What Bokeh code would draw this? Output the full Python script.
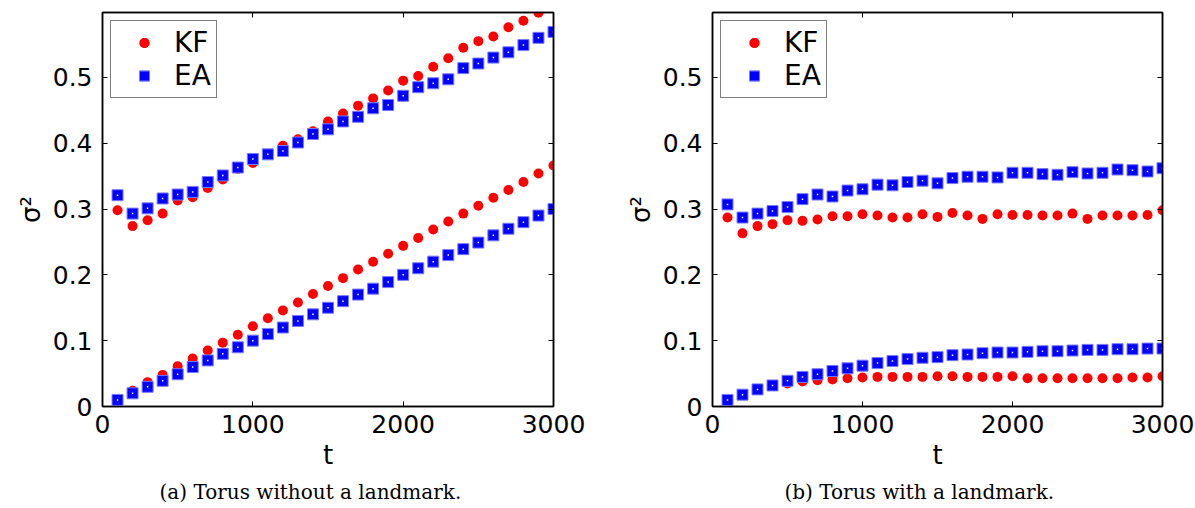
import math
from bokeh.plotting import figure
from bokeh.layouts import row
from bokeh.models import (LinearAxis, FixedTicker, Range1d, Legend, LegendItem, Title)
from bokeh.embed import file_html
from bokeh.resources import INLINE

nan = float("nan")

t = [100, 200, 300, 400, 500, 600, 700, 800, 900, 1000,
     1100, 1200, 1300, 1400, 1500, 1600, 1700, 1800, 1900, 2000,
     2100, 2200, 2300, 2400, 2500, 2600, 2700, 2800, 2900, 3000]

# (a) Torus without a landmark
kf_a_upper = [0.298, 0.274, 0.283, 0.293, 0.313, 0.318, 0.332, 0.345, 0.361, 0.370,
              0.383, 0.396, 0.406, 0.418, 0.433, 0.445, 0.457, 0.468, 0.480, 0.495,
              0.502, 0.516, 0.529, 0.545, 0.555, 0.562, 0.576, 0.586, 0.598, nan]
ea_a_upper = [0.321, 0.293, 0.301, 0.316, 0.322, 0.326, 0.341, 0.351, 0.363, 0.376,
              0.383, 0.388, 0.401, 0.414, 0.421, 0.433, 0.440, 0.453, 0.458, 0.472,
              0.485, 0.491, 0.497, 0.514, 0.521, 0.530, 0.538, 0.549, 0.560, 0.569]
kf_a_lower = [0.010, 0.024, 0.037, 0.048, 0.061, 0.073, 0.085, 0.097, 0.109, 0.122,
              0.134, 0.146, 0.158, 0.171, 0.183, 0.195, 0.208, 0.220, 0.232, 0.244,
              0.256, 0.269, 0.281, 0.293, 0.305, 0.317, 0.329, 0.341, 0.354, 0.366]
ea_a_lower = [0.010, 0.020, 0.030, 0.039, 0.049, 0.060, 0.070, 0.080, 0.090, 0.100,
              0.110, 0.120, 0.130, 0.140, 0.150, 0.160, 0.170, 0.179, 0.189, 0.200,
              0.210, 0.220, 0.230, 0.239, 0.249, 0.260, 0.270, 0.280, 0.290, 0.300]

# (b) Torus with a landmark
kf_b_upper = [0.287, 0.263, 0.274, 0.277, 0.283, 0.282, 0.284, 0.289, 0.289, 0.292,
              0.290, 0.287, 0.287, 0.292, 0.288, 0.294, 0.290, 0.285, 0.292, 0.291,
              0.291, 0.290, 0.290, 0.293, 0.285, 0.290, 0.290, 0.290, 0.291, 0.298]
ea_b_upper = [0.307, 0.287, 0.293, 0.297, 0.303, 0.315, 0.322, 0.319, 0.328, 0.330,
              0.337, 0.336, 0.341, 0.343, 0.339, 0.347, 0.349, 0.349, 0.348, 0.355,
              0.355, 0.353, 0.352, 0.356, 0.354, 0.355, 0.360, 0.359, 0.357, 0.362]
kf_b_lower = [0.010, 0.018, 0.025, 0.032, 0.035, 0.038, 0.040, 0.041, 0.043, 0.044,
              0.045, 0.045, 0.045, 0.045, 0.046, 0.046, 0.045, 0.045, 0.045, 0.046,
              0.043, 0.043, 0.043, 0.043, 0.043, 0.043, 0.043, 0.044, 0.044, 0.046]
ea_b_lower = [0.010, 0.018, 0.026, 0.032, 0.039, 0.045, 0.049, 0.054, 0.058, 0.062,
              0.066, 0.069, 0.072, 0.074, 0.075, 0.078, 0.079, 0.081, 0.082, 0.082,
              0.083, 0.084, 0.084, 0.085, 0.086, 0.086, 0.087, 0.087, 0.088, 0.088]

x_ticks = [0, 1000, 2000, 3000]
x_tick_labels = ["0", "1000", "2000", "3000"]
y_ticks = [0, 0.1, 0.2, 0.3, 0.4, 0.5]
y_tick_labels = ["0", "0.1", "0.2", "0.3", "0.4", "0.5"]
series_names = ["KF", "EA"]
captions = ["(a) Torus without a landmark.", "(b) Torus with a landmark."]

AX_FONT = "DejaVu Sans"


def style_axis(ax, ticks, labels, show_labels):
    ax.ticker = FixedTicker(ticks=ticks)
    ax.major_tick_in = 5
    ax.major_tick_out = 0
    ax.minor_tick_line_color = None
    ax.axis_line_color = "black"
    ax.axis_line_width = 1.5
    ax.major_tick_line_color = "black"
    ax.major_tick_line_width = 1
    if show_labels:
        ax.major_label_overrides = {tk: lb for tk, lb in zip(ticks, labels)}
        ax.major_label_text_font = AX_FONT
        ax.major_label_text_color = "black"
        ax.major_label_text_font_size = "25px"
    else:
        # tick marks only, no labels drawn
        ax.major_label_text_color = None
        ax.major_label_text_font_size = "0px"
        ax.major_label_standoff = 0


def make_fig(kf_u, kf_l, ea_u, ea_l, caption, width, left, right, cap_offset):
    p = figure(width=width, height=508, x_range=Range1d(0, 3000), y_range=Range1d(0, 0.5985),
               output_backend="svg", toolbar_location=None,
               min_border_left=left, min_border_right=right,
               min_border_top=12, min_border_bottom=100)
    p.grid.visible = False
    p.outline_line_color = "black"
    p.outline_line_width = 1.5
    p.background_fill_color = "white"
    p.border_fill_color = "white"

    style_axis(p.xaxis[0], x_ticks, x_tick_labels, True)
    style_axis(p.yaxis[0], y_ticks, y_tick_labels, True)
    p.xaxis[0].major_label_standoff = 8
    p.yaxis[0].major_label_standoff = 10
    p.xaxis[0].axis_label = "t"
    p.yaxis[0].axis_label = "σ²"
    for ax in (p.xaxis[0], p.yaxis[0]):
        ax.axis_label_text_font = AX_FONT
        ax.axis_label_text_font_size = "26px"
        ax.axis_label_text_font_style = "normal"
        ax.axis_label_text_color = "black"
    p.xaxis[0].axis_label_standoff = 4
    p.yaxis[0].axis_label_standoff = 4

    top_ax = LinearAxis()
    style_axis(top_ax, x_ticks, x_tick_labels, False)
    p.add_layout(top_ax, "above")
    right_ax = LinearAxis()
    style_axis(right_ax, y_ticks, y_tick_labels, False)
    p.add_layout(right_ax, "right")

    r_kf1 = p.scatter(t, kf_u, marker="circle", size=10, fill_color="#ff0000", line_color=None)
    r_kf2 = p.scatter(t, kf_l, marker="circle", size=10, fill_color="#ff0000", line_color=None)
    r_ea1 = p.scatter(t, ea_u, marker="square", size=11, fill_color="#0000ff",
                      line_color="#7a7aff", line_width=1)
    r_ea2 = p.scatter(t, ea_l, marker="square", size=11, fill_color="#0000ff",
                      line_color="#7a7aff", line_width=1)
    p.scatter(t, ea_u, marker="square", size=1.5, fill_color="white", line_color=None)
    p.scatter(t, ea_l, marker="square", size=1.5, fill_color="white", line_color=None)

    legend = Legend(items=[LegendItem(label=series_names[0], renderers=[r_kf1, r_kf2]),
                           LegendItem(label=series_names[1], renderers=[r_ea1, r_ea2])],
                    location="top_left", margin=8, padding=5, spacing=0,
                    glyph_width=56, glyph_height=25, label_standoff=2,
                    label_text_font=AX_FONT, label_text_font_size="28px",
                    label_text_color="black",
                    border_line_color="black", border_line_width=1.2,
                    background_fill_color="white", background_fill_alpha=1.0)
    p.add_layout(legend, "center")

    cap = Title(text=caption, align="left", offset=cap_offset,
                text_font="DejaVu Serif", text_font_size="20px", text_font_style="normal",
                text_color="black", standoff=10)
    p.add_layout(cap, "below")
    return p


p1 = make_fig(kf_a_upper, kf_a_lower, ea_a_upper, ea_a_lower, captions[0], 597, 102, 44, 57)
p2 = make_fig(kf_b_upper, kf_b_lower, ea_b_upper, ea_b_lower, captions[1], 598, 115, 33, 72)

layout = row(p1, p2)
open("out.html", "w").write(file_html(layout, INLINE))
